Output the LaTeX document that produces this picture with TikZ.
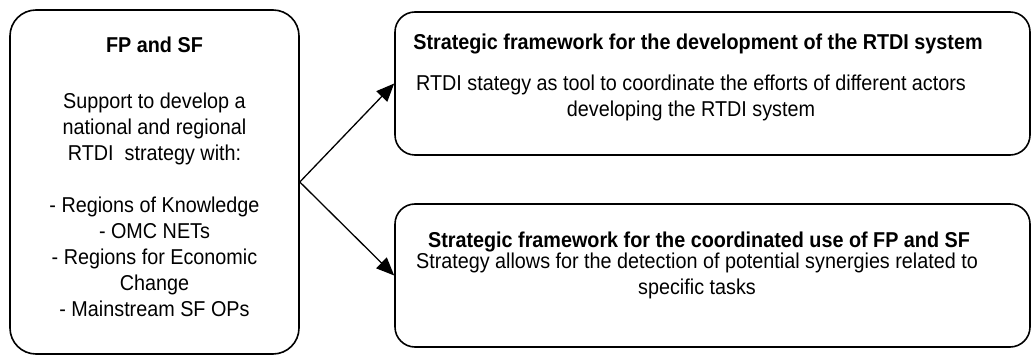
\documentclass[tikz,border=0pt]{standalone}
\usepackage{fontspec}
\setmainfont{Liberation Sans}[FakeStretch=0.92]
\usetikzlibrary{arrows.meta}

\begin{document}
\begin{tikzpicture}
[
x=1pt, y=-1pt,
panel/.style={draw, line width=1.6pt, inner sep=0pt},
leftpanel/.style={panel, rounded corners=26pt, minimum width=289pt, minimum height=344pt},
rightpanel/.style={panel, rounded corners=20pt, minimum width=635pt, minimum height=143pt},
txt/.style={align=center, font=\fontsize{21.5}{26}\selectfont},
head/.style={align=center, font=\fontsize{21.5}{26}\selectfont\bfseries},
link/.style={line width=1.3pt, -{Triangle[length=18pt,width=15pt]}}
]
\useasboundingbox (0,0) rectangle (1033,355);
% boxes
\node (fpsf) [leftpanel] at (154.5,182) {};
\node (dev) [rightpanel] at (712.5,83.5) {};
\node (use) [rightpanel] at (712.5,275.5) {};
% texts
\node (fpsfhead) [head] at (154.5,45) {FP and SF};
\node (fpsftext) [txt] at (154.5,205) {Support to develop a\\national and regional\\RTDI~ strategy with:\\[26pt]- Regions of Knowledge\\- OMC NETs\\- Regions for Economic\\Change\\- Mainstream SF OPs};
\node (devhead) [head] at (698,44) {Strategic framework for the development of the RTDI system};
\node (devtext) [txt] at (691,98) {RTDI stategy as tool to coordinate the efforts of different actors\\developing the RTDI system};
\node (usehead) [head] at (699,242) {Strategic framework for the coordinated use of FP and SF};
\node (usetext) [txt] at (697,276) {Strategy allows for the detection of potential synergies related to\\specific tasks};
% arrows
\draw [link] (fpsf.east) -- (dev.west);
\draw [link] (fpsf.east) -- (use.west);
\end{tikzpicture}
\end{document}
